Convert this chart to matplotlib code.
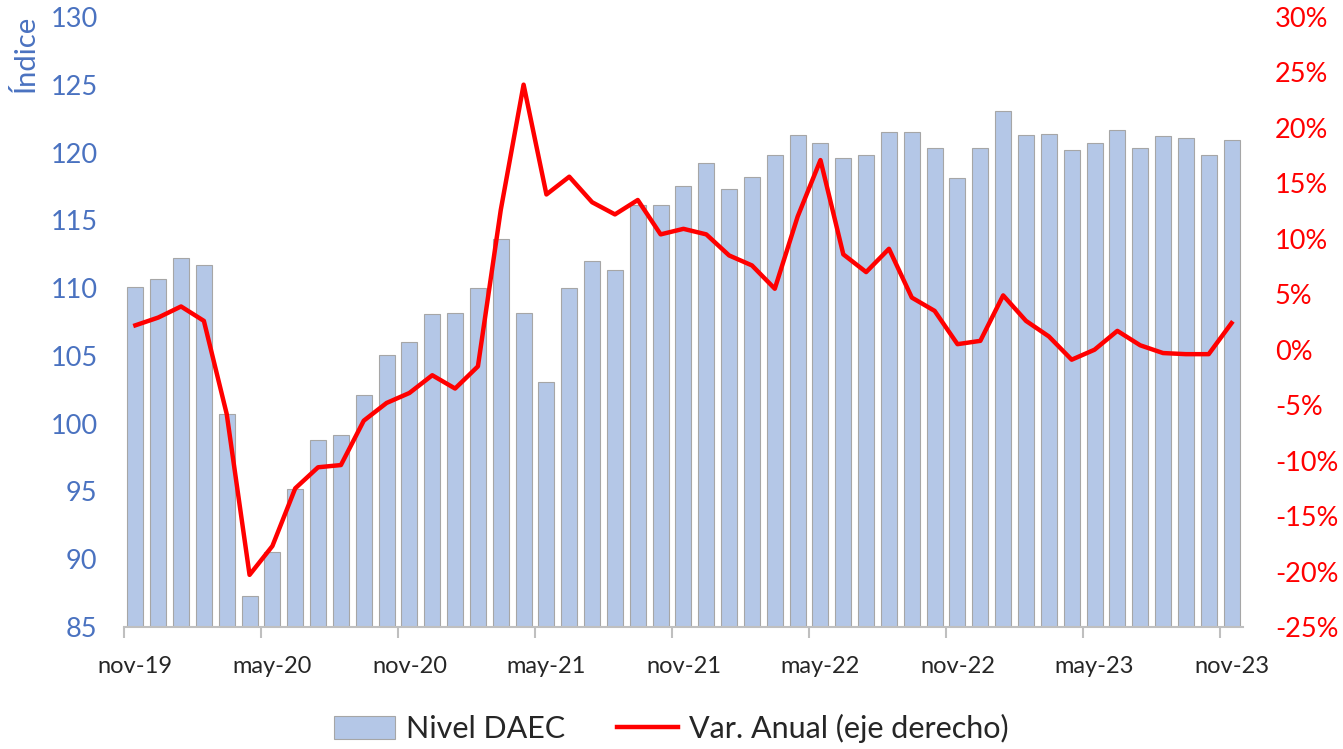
import numpy as np
import matplotlib
matplotlib.use("Agg")
import matplotlib.pyplot as plt
from matplotlib.ticker import FixedLocator, FuncFormatter

plt.rcParams['font.family'] = ['Lato', 'DejaVu Sans']

# monthly data nov-19 .. nov-23
nivel = [110.1, 110.7, 112.2, 111.7, 100.7, 87.3, 90.5, 95.2, 98.8, 99.2,
         102.1, 105.1, 106.0, 108.1, 108.2, 110.0, 113.6, 108.2, 103.1, 110.0,
         112.0, 111.3, 116.1, 116.1, 117.5, 119.2, 117.3, 118.2, 119.8, 121.3,
         120.7, 119.6, 119.8, 121.5, 121.5, 120.3, 118.1, 120.3, 123.1, 121.3,
         121.4, 120.2, 120.7, 121.7, 120.3, 121.2, 121.1, 119.8, 120.9]
var_anual = [2.2, 2.9, 3.9, 2.6, -5.8, -20.3, -17.7, -12.5, -10.6, -10.4,
             -6.4, -4.8, -3.9, -2.3, -3.5, -1.5, 12.6, 23.9, 14.0, 15.6,
             13.3, 12.2, 13.5, 10.4, 10.9, 10.4, 8.5, 7.6, 5.5, 12.0,
             17.1, 8.6, 7.0, 9.1, 4.7, 3.5, 0.5, 0.8, 4.9, 2.6,
             1.2, -0.9, 0.0, 1.7, 0.4, -0.3, -0.4, -0.4, 2.4]
tick_labels = ["nov-19", "may-20", "nov-20", "may-21", "nov-21",
               "may-22", "nov-22", "may-23", "nov-23"]

blue_txt = "#4A72C0"
red = "#FF0000"

x = np.arange(len(nivel))

fig = plt.figure(figsize=(13.43, 7.49), dpi=100)
ax = fig.add_axes([0.0923, 0.1629, 0.8332, 0.8144])
ax2 = ax.twinx()

bars = ax.bar(x, nivel, width=0.7, color="#B4C7E7", edgecolor="#A6A6A6",
              linewidth=0.8, label="Nivel DAEC", zorder=2)
ax.set_ylim(85, 130)
ax.set_xlim(-0.5, len(nivel) - 0.5)
ax.set_yticks(np.arange(85, 131, 5))
ax.tick_params(axis='y', length=0, colors=blue_txt, labelsize=19.5, pad=19)

line, = ax2.plot(x, var_anual, color=red, linewidth=3.2,
                 label="Var. Anual (eje derecho)", zorder=3)
ax2.set_ylim(-25, 30)
ax2.set_yticks(np.arange(-25, 31, 5))
ax2.yaxis.set_major_formatter(FuncFormatter(lambda v, p: f"{v:.0f}%"))
ax2.tick_params(axis='y', length=0, colors=red, labelsize=19.5, pad=23)

# x axis: labels at month centres, tick marks at month boundaries
label_pos = np.arange(0, len(nivel), 6)
ax.set_xticks(label_pos)
ax.set_xticklabels(tick_labels)
ax.tick_params(axis='x', length=0, labelsize=17, labelcolor="#262626", pad=21)
ax.xaxis.set_minor_locator(FixedLocator(label_pos - 0.5))
ax.tick_params(axis='x', which='minor', length=8, width=1.5, color="#BFBFBF")

for a in (ax, ax2):
    for s in ("top", "left", "right"):
        a.spines[s].set_visible(False)
ax.spines["bottom"].set_color("#BFBFBF")
ax.spines["bottom"].set_linewidth(1.5)
ax2.spines["bottom"].set_visible(False)

fig.text(25 / 1343, 1 - 53 / 749, "Índice", rotation=90, color=blue_txt,
         fontsize=21, ha="center", va="center")

fig.legend(handles=[bars, line], loc="center", bbox_to_anchor=(0.5, 0.027),
           ncol=2, frameon=False, fontsize=22, handlelength=2.0,
           handleheight=0.75, handletextpad=0.35, columnspacing=1.7,
           labelcolor="#262626")

fig.savefig("out.png", dpi=100)
plt.close(fig)
